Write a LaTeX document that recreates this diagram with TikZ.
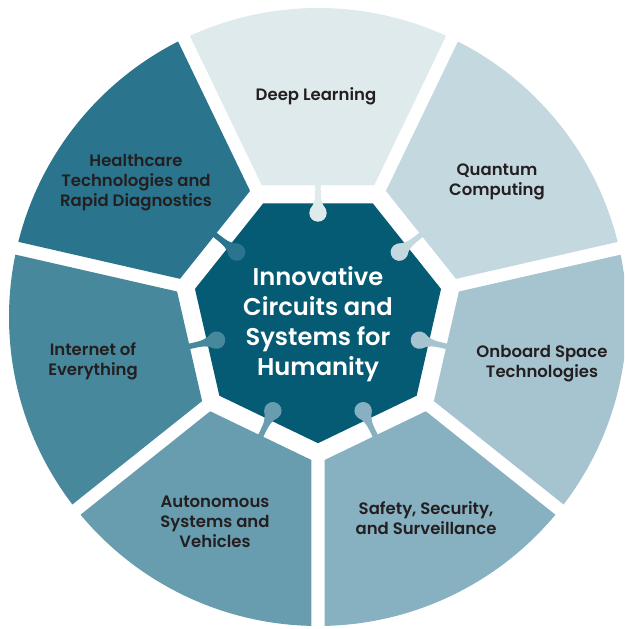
\documentclass[tikz,border=0pt]{standalone}
\usepackage{fontspec}
\setmainfont{Poppins}
\IfFontExistsTF{Poppins SemiBold}{\newfontfamily\semib{Poppins SemiBold}}{\newcommand\semib{\bfseries}}
\definecolor{cDeep}{HTML}{DFEAEC}
\definecolor{cQuan}{HTML}{C4D8E0}
\definecolor{cOnb}{HTML}{A5C4CF}
\definecolor{cSafe}{HTML}{87B0C0}
\definecolor{cAuto}{HTML}{689CAF}
\definecolor{cIoE}{HTML}{48889C}
\definecolor{cHealth}{HTML}{2B748D}
\definecolor{cCenter}{HTML}{055A74}
\definecolor{txt}{HTML}{231F20}
\newcommand\segshape[2]{%
  \begin{scope}[rotate=#1]
    \fill[#2] (131.7,-56.2) -- (281.17,-128.17) arc[start angle=-24.5,end angle=24.5,radius=309] -- (131.7,56.2) -- cycle;
  \end{scope}}
\newcommand\pinshape[2]{%
  \begin{scope}[rotate=#1]
    \fill[#2] (104,0) circle (8.7);
    \fill[#2] (108,-7.6) .. controls (114,-3.2) and (118,-2.5) .. (133,-2.8) -- (133,2.8) .. controls (118,2.5) and (114,3.2) .. (108,7.6) -- cycle;
  \end{scope}}
\begin{document}
\begin{tikzpicture}[x=1pt,y=1pt,
  lbl/.style={font=\fontsize{16.5}{20}\selectfont\semib, text=txt, align=center, inner sep=0pt},
  ctr/.style={font=\fontsize{24.2}{30}\selectfont\semib, text=white, align=center, inner sep=0pt}]
\useasboundingbox (-318,-312) rectangle (306,317);
\clip (-318,-312) rectangle (306,317);
% segments
\segshape{90}{cDeep}
\segshape{38.5714}{cQuan}
\segshape{-12.8571}{cOnb}
\segshape{-64.2857}{cSafe}
\segshape{-115.7143}{cAuto}
\segshape{-167.1429}{cIoE}
\segshape{141.4286}{cHealth}
% central heptagon
\fill[cCenter] (-90:126.2) \foreach \k in {1,...,6} { -- ({-90+\k*51.4286}:126.2) } -- cycle;
% pins
\pinshape{90}{cDeep}
\pinshape{38.5714}{cQuan}
\pinshape{-12.8571}{cOnb}
\pinshape{-64.2857}{cSafe}
\pinshape{-115.7143}{cAuto}
\pinshape{-167.1429}{cIoE}
\pinshape{141.4286}{cHealth}
% labels
\node[ctr] (center) at (0,-7.5) {Innovative\\Circuits and\\Systems for\\Humanity};
\node[lbl] (deep) at (-2,221) {Deep Learning};
\node[lbl] (quan) at (179,135) {Quantum\\Computing};
\node[lbl] (onb) at (224,-47) {Onboard Space\\Technologies};
\node[lbl] (safe) at (108,-201) {Safety, Security,\\and Surveillance};
\node[lbl] (auto) at (-103,-205) {Autonomous\\Systems and\\Vehicles};
\node[lbl] (ioe) at (-225,-44) {Internet of\\Everything};
\node[lbl] (health) at (-182,134) {Healthcare\\Technologies and\\Rapid Diagnostics};
\end{tikzpicture}
\end{document}
